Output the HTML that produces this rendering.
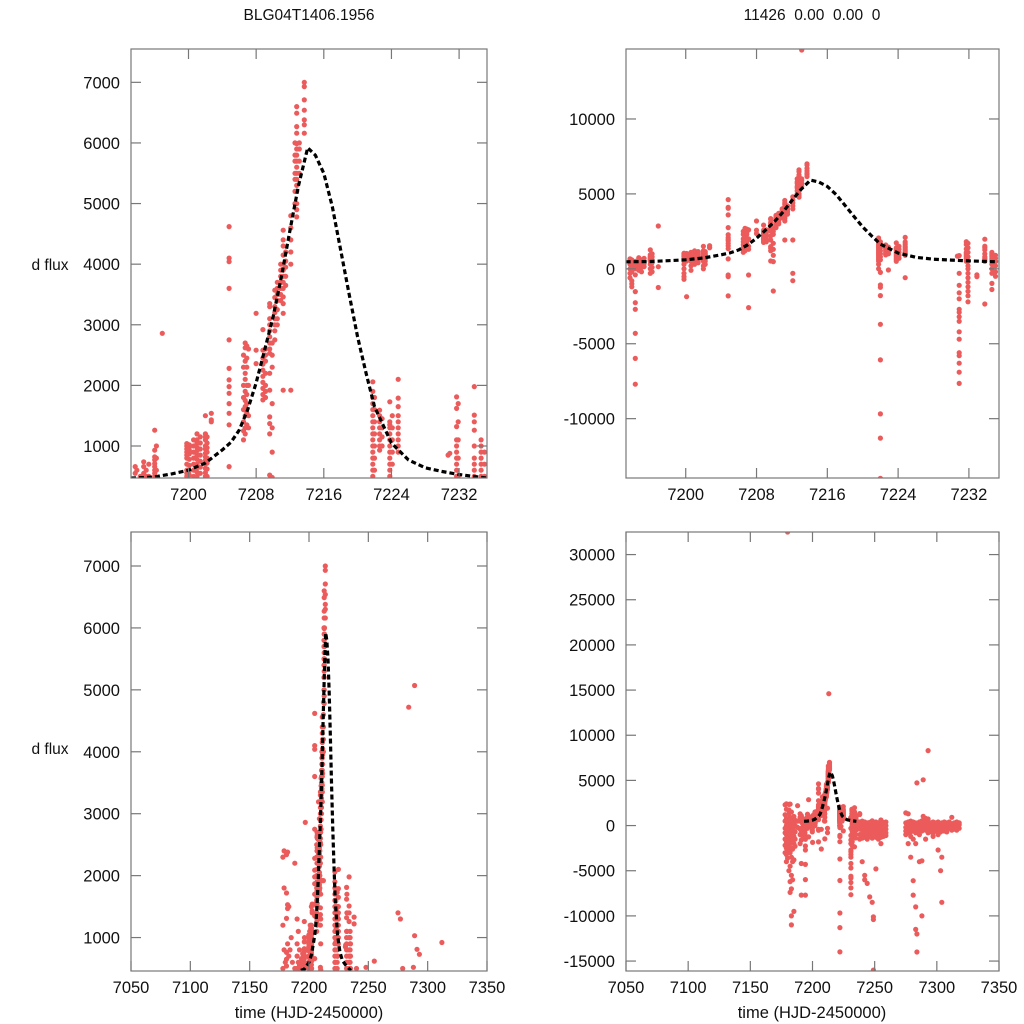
<!DOCTYPE html>
<html><head><meta charset="utf-8"><style>
html,body{margin:0;padding:0;background:#fff;width:1024px;height:1024px;overflow:hidden;}
svg{display:block;font-family:"Liberation Sans",sans-serif;}
</style></head><body>
<svg id="chart" width="1024" height="1024" viewBox="0 0 1024 1024" xmlns="http://www.w3.org/2000/svg">
<rect width="1024" height="1024" fill="#fff"/>
<text x="309" y="20" font-size="15.5" text-anchor="middle" fill="#111">BLG04T1406.1956</text>
<text x="812" y="20" font-size="15.5" text-anchor="middle" fill="#111" xml:space="preserve">11426  0.00  0.00  0</text>
<text x="50" y="270" font-size="15.5" text-anchor="middle" fill="#111">d flux</text>
<text x="50" y="754" font-size="15.5" text-anchor="middle" fill="#111">d flux</text>
<text x="309" y="1018" font-size="16.5" text-anchor="middle" fill="#111">time (HJD-2450000)</text>
<text x="812" y="1018" font-size="16.5" text-anchor="middle" fill="#111">time (HJD-2450000)</text>
</svg>
<script>
// observed data: [time, [flux values at that time]]
const observations = [
[7178,[-300,-800,-1500,-2200,500,1200,-3000,2300]],
[7179,[2400,1800,800,0,-500,-1000,-1800,-2500,-3200,-4000]],
[7180,[32500,600,100,-300,-700,-1200,-2000,-2800,-3600]],
[7181,[2340,1720,1310,760,650,540,200,-200,-600,-1100,-1500,-2400,-5000]],
[7182,[2380,1530,1470,900,300,-400,-900,-1400,-2000,-3000,-4500,-6200,-7400]],
[7183,[1500,700,0,-500,-1300,-2500,-3500,-5500,-7000,-10000,-11000]],
[7184,[800,200,-300,-800,-1600,-2600,-4000,-6000]],
[7185,[1000,400,-100,-600,-1200,-2000,-3800,-9500]],
[7186,[600,0,-700,-1500,-2300]],
[7188,[2200,500,-200]],
[7190,[1300,900,700,500,-400,-1000,-2000]],
[7191,[1100,600,480,-300,-800,-1600,-4200,-7700]],
[7192,[800,550,200,-500,-1100]],
[7193.7,[660,550,300,0,-300,-600]],
[7193.9,[600,400,100,-200,-800,-1000,-1200]],
[7194.3,[500,300,0,-400,-1520,-2260,-2700,-4300,-5980,-7700]],
[7194.7,[740,660,550,400,200,-100]],
[7195,[600,500,300,100,-200]],
[7195.3,[700,500,350,150]],
[7196,[1260,930,820,770,710,660,600,550,500,300,0,-300]],
[7196.2,[1000,800,600,400,100,-200]],
[7196.9,[2860,140,-1250]],
[7199.8,[1040,1000,950,900,850,800,700,600,550,500,300,0,-300,-520,-700]],
[7200.1,[1020,980,930,870,780,680,590,520,-1860]],
[7200.6,[1100,1000,900,800,700,600,500,200,-100]],
[7201,[1200,1100,1050,980,920,850,780,700,640,570,500,300]],
[7201.4,[1150,1050,950,850,750,650,550,400]],
[7202,[1500,1200,1150,1100,1000,950,880,820,760,700,630,560,500,200,0]],
[7202.2,[1150,1050,970,900,800,720,620,500,300]],
[7202.7,[1540,1430,1400]],
[7204.8,[4620,4100,4040,3600,2750,2280,2090,1980,1870,1700,1540,1350,660,-410,-520,-1810]],
[7206.5,[2500,2300,2000,1800,1600,1400,1250,1100]],
[7206.7,[2700,2620,2400,2200,2100,1900,1750,1650,1500,1300,1200]],
[7206.9,[2650,2450,2300,2000,1850,1700,1550,1350]],
[7207.1,[2600,2000,1500,1300,-410,-2590]],
[7208,[3190,2580,2360]],
[7208.8,[2920,2580,2450,2350,2250,2150,2050,1950,1850,1760]],
[7209.1,[2600,2500,2400,2200,2000,1900,1800]],
[7209.6,[3350,3300,3100,3000,2900,2800,2700,2600,2530,2200,1920,1480,1370,1200,520]],
[7209.9,[2700,2500,2300,1700,1300,900,480,-1480]],
[7210.2,[3570,3450,3300,3200,3100,3000,2900,2750]],
[7210.5,[3700,3600,3500,3400,3250,3100,3000]],
[7210.9,[4000,3900,3800,3700,3600,3500,3400]],
[7211.2,[4560,4400,4300,4150,4000,3900,3800,3700,3600,3460,3350,3190,1920]],
[7211.5,[4200,4050,3950,3800,3650]],
[7212.1,[4800,4600,4400,4200,4000,1920,-300,-790]],
[7212.6,[6000,5800,5700,5500,5400,5200,5000]],
[7212.8,[6600,6490,6270,6160,5990,5900,5800,5700,5600,5500,5400,5300,5200,5000,4900,4780]],
[7213.1,[14600,6000,5900,5700,5500]],
[7213.7,[7000,6930,6710,6540,6380,6300,6160]],
[7221.8,[2060,1900,1800,1700,1600,1500,1400,1300,1200,1100,1000,900,800,700,600,500,300,0]],
[7222,[1800,1600,1400,1200,1000,800,600,-240,-1080,-1230,-1790,-3700,-6080,-9680,-11300,-13990]],
[7222.6,[1590,1500,1400,1300,1200,1100,1000,930]],
[7222.9,[1450,1300,1150,1000,-80]],
[7223.8,[1730,1400,1350,1300,1200,1100,1000,900,800,700,600,500]],
[7224.1,[1500,1300,1100,900,700]],
[7224.8,[2100,1790,1650,1500,1400,1300,1200,1100,1000,900,-590]],
[7230.7,[850]],
[7230.9,[880,-300,-1100,-1600,-2000,-2700,-2900,-3200,-3500,-4200,-4700,-5600,-5800,-6300,-6900,-7650]],
[7231.7,[1810,1620,1320,1100,1000,900,800,700,600,500]],
[7231.9,[1700,1400,1100,800,500,200,0,-300,-600,-900,-1200,-1500,-1800,-2200]],
[7232.9,[-520,-400]],
[7233.8,[1980,1510,1400,1260,1000,800,700,600,500,-2350]],
[7234.6,[1100,1000,900,800,700,600,500,300,0,-300,-970,-1380]],
[7235,[900,700,500,200,-200,-500]],
[7238,[1330,1220,400,0,-400,-1000,-1500]],
[7240,[500,300,-100,-500,-900,-1400,-4000]],
[7242,[400,0,-400,-800,-1300,-5500,-6000]],
[7244,[300,-200,-600,-1000,-1500,-6400]],
[7246,[350,-100,-500,-900,-1200,-7900]],
[7248,[520,300,-200,-600,-1000,-1400,-8500]],
[7249,[200,-300,-700,-10100,-10400,-16000]],
[7251,[400,0,-400,-800,-1300,-4800]],
[7253,[300,250,-150,-550,-950,-1500]],
[7255,[620,300,-100,-500,-900,-1300,-2000]],
[7257,[350,-50,-450,-850,-1200]],
[7259,[400,0,-400,-800,-1100]],
[7275,[1400,300,-200,-600,-1000]],
[7277,[1300,400,0,-400,-800,-2000]],
[7279,[500,100,-300,-700,-1200,-3500]],
[7281,[400,200,-200,-600,-1500,-6100,-7700]],
[7283,[300,100,-300,-800,-2000,-9000,-11500]],
[7284,[4720,200,-200,-700,-12000,-14000]],
[7286,[400,300,-100,-500,-1000,-4000]],
[7288,[520,200,-200,-600,-3900,-10000]],
[7289,[5070,1030,400,0,-400]],
[7291,[810,300,-100,-500,-1500]],
[7293,[8300,730,400,0,-400,-800]],
[7295,[300,100,-300,-700]],
[7297,[400,0,-400,-800,-1200]],
[7299,[300,200,-200,-600]],
[7301,[400,0,-400,-1000,-2700]],
[7303,[200,100,-300,-700,-5000]],
[7304,[300,200,-200,-3500,-8500]],
[7306,[400,200,-200,-600]],
[7308,[300,100,-300,-700]],
[7310,[400,100,-300]],
[7312,[920,200,-200,-500]],
[7314,[300,-100,-400]],
[7316,[400,200,-200,-500]],
[7318,[300,100,-300]]
];
// model fit curve
const modelTimes = [7193.2,7196,7198,7200,7202,7204,7205,7206,7207,7208,7209,7210,7211,7212,7213,7214.1,7215,7216,7217,7218,7219,7220,7221,7222,7224,7226,7228,7230,7232,7235.3];
const modelFlux  = [470,490,540,600,720,935,1060,1260,1600,2040,2580,3130,3800,4560,5290,5920,5800,5500,4950,4230,3500,2800,2200,1650,1050,770,640,580,530,470];
// tick labels
const xTicksZoom = [7200,7208,7216,7224,7232];
const xTicksFull = [7050,7100,7150,7200,7250,7300,7350];
const yTicksSmall = [1000,2000,3000,4000,5000,6000,7000];
const yTicksMid = [-10000,-5000,0,5000,10000];
const yTicksWide = [-15000,-10000,-5000,0,5000,10000,15000,20000,25000,30000];

const panels = [
 {name:'top-left', x0:131,x1:487,y0:49,y1:478, xmin:7193.2,xmax:7235.3, ymin:472,ymax:7550, xt:xTicksZoom, yt:yTicksSmall},
 {name:'top-right', x0:626,x1:999,y0:49,y1:478, xmin:7193.25,xmax:7235.4, ymin:-13960,ymax:14670, xt:xTicksZoom, yt:yTicksMid},
 {name:'bottom-left', x0:131,x1:487,y0:532,y1:971, xmin:7050,xmax:7350, ymin:460,ymax:7549, xt:xTicksFull, yt:yTicksSmall},
 {name:'bottom-right', x0:626,x1:999,y0:532,y1:971, xmin:7050,xmax:7350, ymin:-16100,ymax:32500, xt:xTicksFull, yt:yTicksWide}
];
const NS='http://www.w3.org/2000/svg';
const svg=document.getElementById('chart');
function mk(tag,attrs,parent){const e=document.createElementNS(NS,tag);for(const k in attrs)e.setAttribute(k,attrs[k]);(parent||svg).appendChild(e);return e;}
const defs=mk('defs',{});
panels.forEach((p,i)=>{
 const sx=v=>p.x0+(v-p.xmin)/(p.xmax-p.xmin)*(p.x1-p.x0);
 const sy=v=>p.y1-(v-p.ymin)/(p.ymax-p.ymin)*(p.y1-p.y0);
 const cp=mk('clipPath',{id:'clip'+i},defs);
 mk('rect',{x:p.x0,y:p.y0,width:p.x1-p.x0,height:p.y1-p.y0},cp);
 const g=mk('g',{});
 
 
 const pts=mk('g',{'clip-path':'url(#clip'+i+')',fill:'#ec5b5b'},g);
 
 
 observations.forEach(ob=>{
  ob[1].forEach(f=>{
   const c=mk('circle',{cx:sx(ob[0]).toFixed(1),cy:sy(f).toFixed(1),r:2.6},pts);
   
   
  });
 });
 let d='';
 modelTimes.forEach((t,k)=>{d+=(k?'L':'M')+sx(t).toFixed(1)+' '+sy(modelFlux[k]).toFixed(1);});
 const line=mk('path',{d:d,fill:'none',stroke:'#000','stroke-width':3.2,'stroke-dasharray':'5 3','stroke-linejoin':'round','clip-path':'url(#clip'+i+')'},g);
 
 
 const fr=mk('rect',{x:p.x0,y:p.y0,width:p.x1-p.x0,height:p.y1-p.y0,fill:'none',stroke:'#777','stroke-width':1.2},g);
 
 
 p.xt.forEach(v=>{
  const x=sx(v);
  mk('line',{x1:x,x2:x,y1:p.y0,y2:p.y0+10,stroke:'#777','stroke-width':1.2},g);
  mk('line',{x1:x,x2:x,y1:p.y1,y2:p.y1-10,stroke:'#777','stroke-width':1.2},g);
  const t=mk('text',{x:x,y:p.y1+22,'font-size':16.5,'text-anchor':'middle',fill:'#111'},g);
  t.textContent=v;
  
  
 });
 p.yt.forEach(v=>{
  const y=sy(v);
  mk('line',{x1:p.x0,x2:p.x0+10,y1:y,y2:y,stroke:'#777','stroke-width':1.2},g);
  mk('line',{x1:p.x1,x2:p.x1-10,y1:y,y2:y,stroke:'#777','stroke-width':1.2},g);
  const t=mk('text',{x:p.x0-11,y:y+6,'font-size':16.5,'text-anchor':'end',fill:'#111'},g);
  t.textContent=v;
  
  
 });
});
</script>
</body></html>
